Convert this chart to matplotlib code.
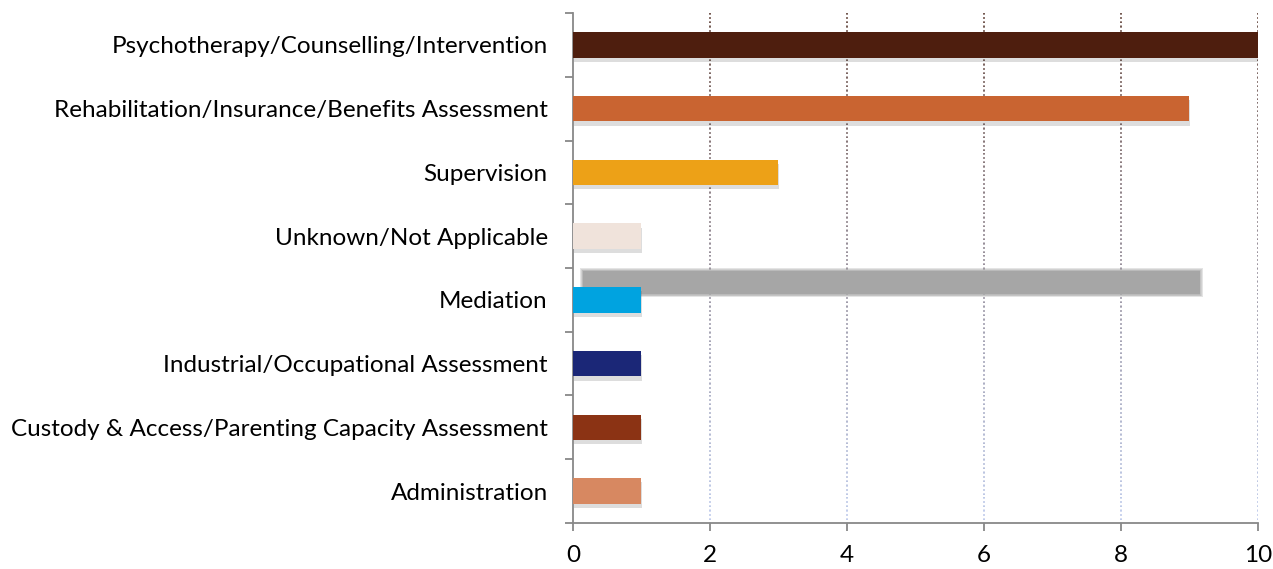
import numpy as np
import matplotlib
matplotlib.use('Agg')
import matplotlib.pyplot as plt
import matplotlib.patheffects as pe
from matplotlib.collections import LineCollection
from matplotlib.colors import to_rgb

categories = ['Administration', 'Custody & Access/Parenting Capacity Assessment',
              'Industrial/Occupational Assessment', 'Mediation', 'Unknown/Not Applicable',
              'Supervision', 'Rehabilitation/Insurance/Benefits Assessment',
              'Psychotherapy/Counselling/Intervention']
values = [1, 1, 1, 1, 1, 3, 9, 10]
colors = ['#D78861', '#8B3314', '#1B2777', '#00A3E0', '#F0E3DB', '#EDA117', '#C96431', '#4E1E0E']
x_ticks = [0, 2, 4, 6, 8, 10]

# stray grey shadow bar seen in the original
ghost_start, ghost_end, ghost_pos = 0.15, 9.15, 3.27

plt.rcParams['font.family'] = ['Lato', 'DejaVu Sans']

fig = plt.figure(figsize=(12.73, 5.69), dpi=100)
ax = fig.add_axes([0.450, 0.081, 0.538, 0.896])

ax.set_xlim(0, 10)
ax.set_ylim(-0.5, len(categories) - 0.5)

# dotted gridlines with brown -> blue fade
top_c = np.array(to_rgb('#5a3a30'))
bot_c = np.array(to_rgb('#b8c8ee'))
n = 40
ys = np.linspace(len(categories) - 0.5, -0.5, n + 1)
for xv in x_ticks[1:]:
    segs = [[(xv, ys[i]), (xv, ys[i + 1])] for i in range(n)]
    cols = [tuple(top_c + (bot_c - top_c) * i / n) for i in range(n)]
    lc = LineCollection(segs, colors=cols, linewidths=1.2, linestyles=(0, (1, 1.5)), zorder=1)
    ax.add_collection(lc)

# blurred ghost bar
for k in range(5):
    gy = 0.012 * (4 - k)
    gx = gy * 64 / 68.5
    ax.barh(ghost_pos, ghost_end - ghost_start + 2 * gx, height=0.36 + 2 * gy,
            left=ghost_start - gx, color='#a6a6a6', alpha=0.3 if k < 4 else 1, zorder=2,
            linewidth=0)

y = np.arange(len(categories))
bars = ax.barh(y, values, height=0.4, color=colors, zorder=3, linewidth=0)
for b in bars:
    b.set_path_effects([pe.SimplePatchShadow(offset=(0.5, -3), alpha=0.18, shadow_rgbFace='#444444'),
                        pe.Normal()])

ax.set_yticks(y)
ax.set_yticklabels(categories, fontsize=17.5)
ax.set_yticks(np.arange(-0.5, len(categories)), minor=True)
ax.tick_params(axis='y', which='major', length=0, pad=18)
ax.tick_params(axis='y', which='minor', length=6, width=1.3, color='#888888', direction='out')
ax.set_xticks(x_ticks)
ax.set_xticklabels([str(v) for v in x_ticks], fontsize=17.5)
ax.tick_params(axis='x', length=6, width=1.3, color='#888888', direction='out', pad=10)

for s in ['top', 'right']:
    ax.spines[s].set_visible(False)
for s in ['left', 'bottom']:
    ax.spines[s].set_color('#888888')
    ax.spines[s].set_linewidth(1.3)

plt.savefig('out.png', dpi=100)
